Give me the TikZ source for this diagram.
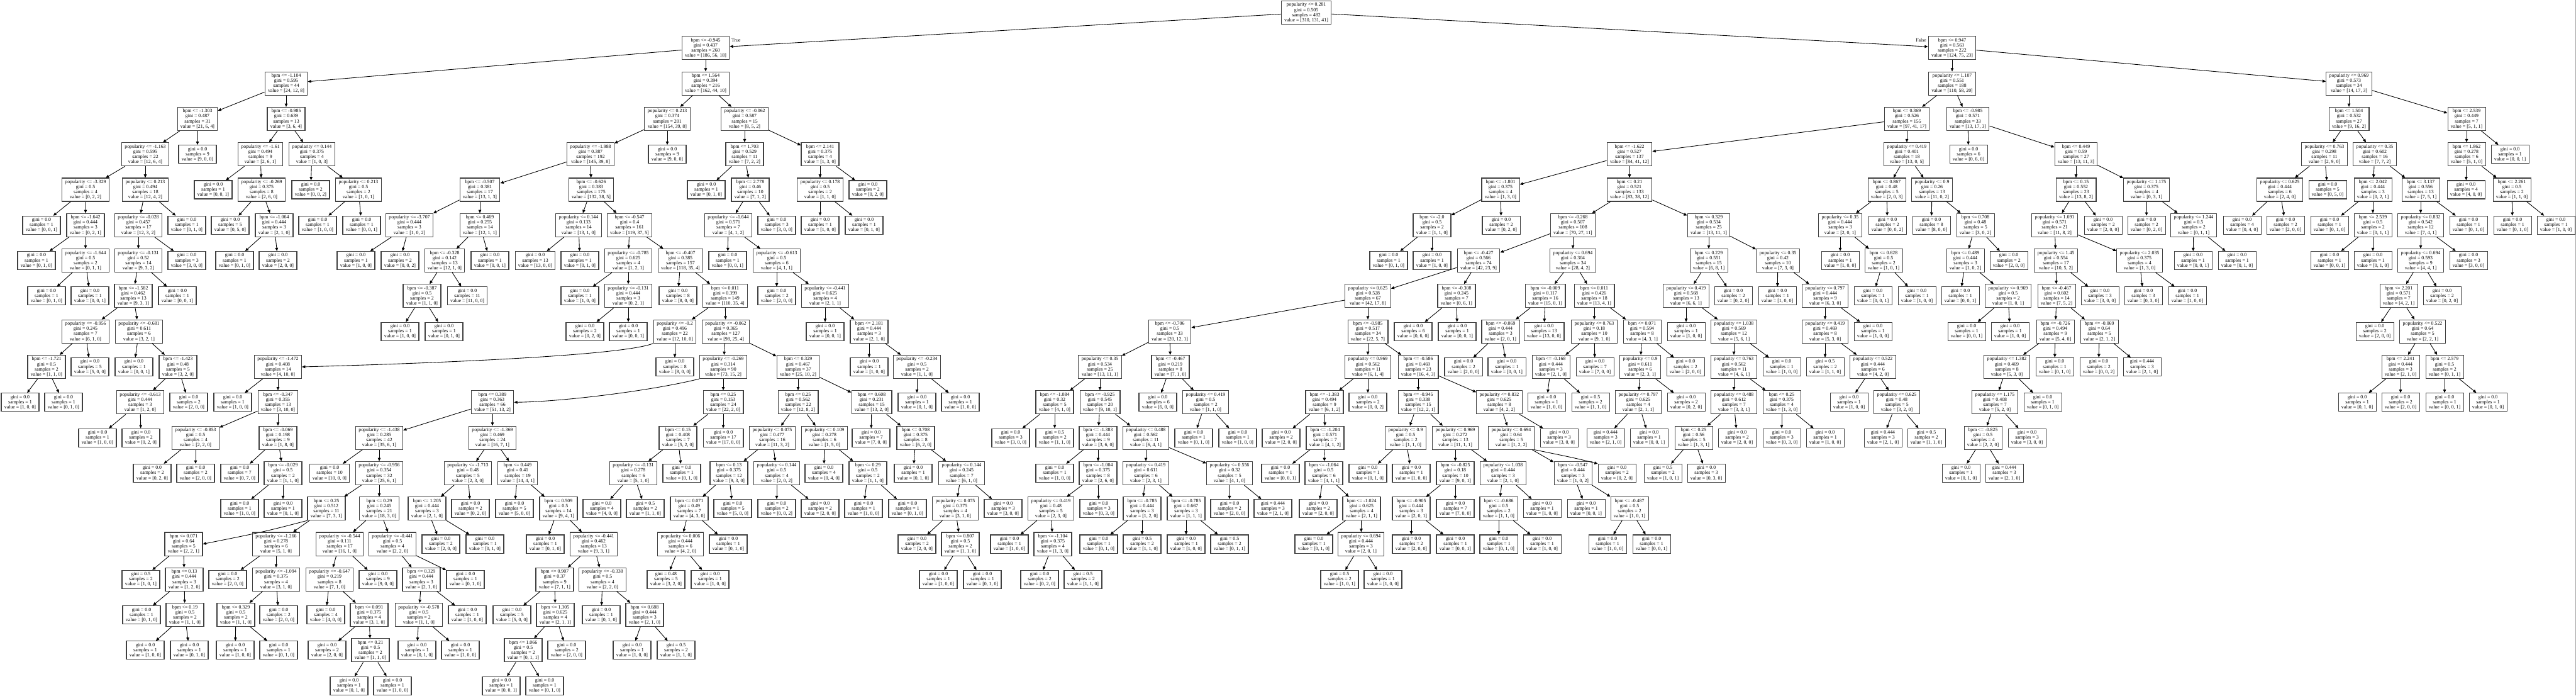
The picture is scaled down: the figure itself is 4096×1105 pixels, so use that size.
\documentclass[tikz,border=0pt]{standalone}
\usepackage{fontspec}
\setmainfont{Liberation Serif}
\usetikzlibrary{arrows.meta}

\tikzset{
  treebox/.style={draw=black!75, line width=0.3pt, rectangle, align=center,
    inner xsep=1.4pt, inner ysep=0.3pt, font=\fontsize{2.23pt}{2.31pt}\selectfont},
  splitnode/.style={treebox, minimum height=0.37cm},
  leafnode/.style={treebox, minimum height=0.29cm},
  treeedge/.style={-{Triangle[length=1.5pt,width=1.3pt]}, line width=0.25pt},
  sidelabel/.style={inner sep=0pt, font=\fontsize{2.23pt}{2.31pt}\selectfont}
}

% node at x (px) and depth level
\newcommand{\splitat}[7]{\node[splitnode] (#1) at (#2,{20+56.3*#3}) {#4\\gini = #5\\samples = #6\\value = [#7]};}
\newcommand{\leafat}[6]{\node[leafnode] (#1) at (#2,{20+56.3*#3}) {gini = #4\\samples = #5\\value = [#6]};}
% same, with the arrow from the parent
\newcommand{\splitbox}[8]{\splitat{#1}{#3}{#4}{#5}{#6}{#7}{#8}\draw[treeedge] (#2) -- (#1);}
\newcommand{\leafbox}[7]{\leafat{#1}{#3}{#4}{#5}{#6}{#7}\draw[treeedge] (#2) -- (#1);}

\begin{document}
\begin{tikzpicture}[x=0.01cm, y=-0.01cm]
\fill[white] (0,0) rectangle (4096,1105);
\useasboundingbox (0,0) rectangle (4096,1105);

\splitat{r}{2077}{0}{popularity <= 0.281}{0.505}{482}{310, 131, 41}

% left branch
\splitbox{n1}{r}{1122}{1}{bpm <= -0.945}{0.437}{260}{186, 56, 18}
\splitbox{n2}{n1}{455}{2}{bpm <= -1.104}{0.595}{44}{24, 12, 8}
\splitbox{n3}{n2}{314}{3}{bpm <= -1.303}{0.487}{31}{21, 6, 4}
\splitbox{n4}{n3}{231}{4}{popularity <= -1.163}{0.595}{22}{12, 6, 4}
\splitbox{n5}{n4}{136}{5}{popularity <= -3.329}{0.5}{4}{0, 2, 2}
\leafbox{n6}{n5}{66}{6}{0.0}{1}{0, 0, 1}
\splitbox{n7}{n5}{136}{6}{bpm <= -1.642}{0.444}{3}{0, 2, 1}
\leafbox{n8}{n7}{58}{7}{0.0}{1}{0, 1, 0}
\splitbox{n9}{n7}{136}{7}{popularity <= -1.644}{0.5}{2}{0, 1, 1}
\leafbox{n10}{n9}{74}{8}{0.0}{1}{0, 1, 0}
\leafbox{n11}{n9}{143}{8}{0.0}{1}{0, 0, 1}
\splitbox{n12}{n4}{231}{5}{popularity <= 0.213}{0.494}{18}{12, 4, 2}
\splitbox{n13}{n12}{220}{6}{popularity <= -0.028}{0.457}{17}{12, 3, 2}
\splitbox{n14}{n13}{220}{7}{popularity <= -0.131}{0.52}{14}{9, 3, 2}
\splitbox{n15}{n14}{212}{8}{bpm <= -1.582}{0.462}{13}{9, 3, 1}
\splitbox{n16}{n15}{136}{9}{popularity <= -0.956}{0.245}{7}{6, 1, 0}
\splitbox{n17}{n16}{74}{10}{bpm <= -1.721}{0.5}{2}{1, 1, 0}
\leafbox{n18}{n17}{32}{11}{0.0}{1}{1, 0, 0}
\leafbox{n19}{n17}{101}{11}{0.0}{1}{0, 1, 0}
\leafbox{n20}{n16}{143}{10}{0.0}{5}{5, 0, 0}
\splitbox{n21}{n15}{221}{9}{popularity <= -0.681}{0.611}{6}{3, 2, 1}
\leafbox{n22}{n21}{213}{10}{0.0}{1}{0, 0, 1}
\splitbox{n23}{n21}{283}{10}{bpm <= -1.423}{0.48}{5}{3, 2, 0}
\splitbox{n24}{n23}{223}{11}{popularity <= -0.613}{0.444}{3}{1, 2, 0}
\leafbox{n25}{n24}{155}{12}{0.0}{1}{1, 0, 0}
\leafbox{n26}{n24}{224}{12}{0.0}{2}{0, 2, 0}
\leafbox{n27}{n23}{300}{11}{0.0}{2}{2, 0, 0}
\leafbox{n28}{n14}{282}{8}{0.0}{1}{0, 0, 1}
\leafbox{n29}{n13}{297}{7}{0.0}{3}{3, 0, 0}
\leafbox{n30}{n12}{297}{6}{0.0}{1}{0, 1, 0}
\leafbox{n31}{n3}{314}{4}{0.0}{9}{9, 0, 0}
\splitbox{n32}{n2}{455}{3}{bpm <= -0.985}{0.639}{13}{3, 6, 4}
\splitbox{n33}{n32}{414}{4}{popularity <= -1.61}{0.494}{9}{2, 6, 1}
\leafbox{n34}{n33}{339}{5}{0.0}{1}{0, 0, 1}
\splitbox{n35}{n33}{416}{5}{popularity <= -0.269}{0.375}{8}{2, 6, 0}
\leafbox{n36}{n35}{366}{6}{0.0}{5}{0, 5, 0}
\splitbox{n37}{n35}{436}{6}{bpm <= -1.064}{0.444}{3}{2, 1, 0}
\leafbox{n38}{n37}{373}{7}{0.0}{1}{0, 1, 0}
\leafbox{n39}{n37}{442}{7}{0.0}{2}{2, 0, 0}
\splitbox{n40}{n32}{496}{4}{popularity <= 0.144}{0.375}{4}{1, 0, 3}
\leafbox{n41}{n40}{494}{5}{0.0}{2}{0, 0, 2}
\splitbox{n42}{n40}{570}{5}{popularity <= 0.213}{0.5}{2}{1, 0, 1}
\leafbox{n43}{n42}{505}{6}{0.0}{1}{1, 0, 0}
\leafbox{n44}{n42}{575}{6}{0.0}{1}{0, 0, 1}
\splitbox{n45}{n1}{1122}{2}{bpm <= 1.564}{0.394}{216}{162, 44, 10}
\splitbox{n46}{n45}{1061}{3}{popularity <= 0.213}{0.374}{201}{154, 39, 8}
\splitbox{n47}{n46}{939}{4}{popularity <= -1.988}{0.387}{192}{145, 39, 8}
\splitbox{n48}{n47}{763}{5}{bpm <= -0.507}{0.381}{17}{13, 1, 3}
\splitbox{n49}{n48}{651}{6}{popularity <= -3.707}{0.444}{3}{1, 0, 2}
\leafbox{n50}{n49}{566}{7}{0.0}{1}{1, 0, 0}
\leafbox{n51}{n49}{636}{7}{0.0}{2}{0, 0, 2}
\splitbox{n52}{n48}{763}{6}{bpm <= 0.469}{0.255}{14}{12, 1, 1}
\splitbox{n53}{n52}{707}{7}{bpm <= -0.328}{0.142}{13}{12, 1, 0}
\splitbox{n54}{n53}{671}{8}{bpm <= -0.387}{0.5}{2}{1, 1, 0}
\leafbox{n55}{n54}{636}{9}{0.0}{1}{1, 0, 0}
\leafbox{n56}{n54}{706}{9}{0.0}{1}{0, 1, 0}
\leafbox{n57}{n53}{743}{8}{0.0}{11}{11, 0, 0}
\leafbox{n58}{n52}{779}{7}{0.0}{1}{0, 0, 1}
\splitbox{n59}{n47}{940}{5}{bpm <= -0.626}{0.383}{175}{132, 38, 5}
\splitbox{n60}{n59}{920}{6}{popularity <= 0.144}{0.133}{14}{13, 1, 0}
\leafbox{n61}{n60}{851}{7}{0.0}{13}{13, 0, 0}
\leafbox{n62}{n60}{922}{7}{0.0}{1}{0, 1, 0}
\splitbox{n63}{n59}{1001}{6}{bpm <= -0.547}{0.4}{161}{119, 37, 5}
\splitbox{n64}{n63}{999}{7}{popularity <= -0.785}{0.625}{4}{1, 2, 1}
\leafbox{n65}{n64}{922}{8}{0.0}{1}{1, 0, 0}
\splitbox{n66}{n64}{999}{8}{popularity <= -0.131}{0.444}{3}{0, 2, 1}
\leafbox{n67}{n66}{930}{9}{0.0}{2}{0, 2, 0}
\leafbox{n68}{n66}{999}{9}{0.0}{1}{0, 0, 1}
\splitbox{n69}{n63}{1082}{7}{bpm <= -0.407}{0.385}{157}{118, 35, 4}
\leafbox{n70}{n69}{1078}{8}{0.0}{8}{8, 0, 0}
\splitbox{n71}{n69}{1153}{8}{bpm <= 0.011}{0.399}{149}{110, 35, 4}
\splitbox{n72}{n71}{1073}{9}{popularity <= -0.2}{0.496}{22}{12, 10, 0}
\splitat{n73}{442}{10}{popularity <= -1.472}{0.408}{14}{4, 10, 0}
\draw[treeedge] (n72.south west) .. controls (990,565) and (700,577) .. (n73.east);
\leafbox{n74}{n73}{370}{11}{0.0}{1}{1, 0, 0}
\splitbox{n75}{n73}{442}{11}{bpm <= -0.347}{0.355}{13}{3, 10, 0}
\splitbox{n76}{n75}{311}{12}{popularity <= -0.853}{0.5}{4}{2, 2, 0}
\leafbox{n77}{n76}{242}{13}{0.0}{2}{0, 2, 0}
\leafbox{n78}{n76}{311}{13}{0.0}{2}{2, 0, 0}
\splitbox{n79}{n75}{442}{12}{bpm <= -0.069}{0.198}{9}{1, 8, 0}
\leafbox{n80}{n79}{381}{13}{0.0}{7}{0, 7, 0}
\splitbox{n81}{n79}{450}{13}{bpm <= -0.029}{0.5}{2}{1, 1, 0}
\leafbox{n82}{n81}{381}{14}{0.0}{1}{1, 0, 0}
\leafbox{n83}{n81}{450}{14}{0.0}{1}{0, 1, 0}
\leafbox{n84}{n72}{1073}{10}{0.0}{8}{8, 0, 0}
\splitbox{n85}{n71}{1154}{9}{popularity <= -0.062}{0.365}{127}{98, 25, 4}
\splitbox{n86}{n85}{1150}{10}{popularity <= -0.269}{0.314}{90}{73, 15, 2}
\splitat{n87}{783}{11}{bpm <= 0.389}{0.363}{66}{51, 13, 2}
\draw[treeedge] (n86.south west) .. controls (1040,620) and (900,638) .. (n87.east);
\splitbox{n88}{n87}{603}{12}{popularity <= -1.438}{0.285}{42}{35, 6, 1}
\leafbox{n89}{n88}{524}{13}{0.0}{10}{10, 0, 0}
\splitbox{n90}{n88}{603}{13}{popularity <= -0.956}{0.354}{32}{25, 6, 1}
\splitbox{n91}{n90}{519}{14}{bpm <= 0.25}{0.512}{11}{7, 3, 1}
\splitat{n92}{292}{15}{bpm <= 0.071}{0.64}{5}{2, 2, 1}
\draw[treeedge] (n91.south west) .. controls (420,845) .. (n92.east);
\leafbox{n93}{n92}{224}{16}{0.5}{2}{1, 0, 1}
\splitbox{n94}{n92}{293}{16}{bpm <= 0.13}{0.444}{3}{1, 2, 0}
\leafbox{n95}{n94}{225}{17}{0.0}{1}{0, 1, 0}
\splitbox{n96}{n94}{294}{17}{bpm <= 0.19}{0.5}{2}{1, 1, 0}
\leafbox{n97}{n96}{231}{18}{0.0}{1}{1, 0, 0}
\leafbox{n98}{n96}{301}{18}{0.0}{1}{0, 1, 0}
\splitbox{n99}{n91}{439}{15}{popularity <= -1.266}{0.278}{6}{5, 1, 0}
\leafbox{n100}{n99}{362}{16}{0.0}{2}{2, 0, 0}
\splitbox{n101}{n99}{439}{16}{popularity <= -1.094}{0.375}{4}{3, 1, 0}
\splitbox{n102}{n101}{375}{17}{bpm <= 0.329}{0.5}{2}{1, 1, 0}
\leafbox{n103}{n102}{374}{18}{0.0}{1}{1, 0, 0}
\leafbox{n104}{n102}{443}{18}{0.0}{1}{0, 1, 0}
\leafbox{n105}{n101}{443}{17}{0.0}{2}{2, 0, 0}
\splitbox{n106}{n90}{603}{14}{bpm <= 0.29}{0.245}{21}{18, 3, 0}
\splitbox{n107}{n106}{540}{15}{popularity <= -0.544}{0.111}{17}{16, 1, 0}
\splitbox{n108}{n107}{524}{16}{popularity <= -0.647}{0.219}{8}{7, 1, 0}
\leafbox{n109}{n108}{518}{17}{0.0}{4}{4, 0, 0}
\splitbox{n110}{n108}{587}{17}{bpm <= 0.091}{0.375}{4}{3, 1, 0}
\leafbox{n111}{n110}{520}{18}{0.0}{2}{2, 0, 0}
\splitbox{n112}{n110}{589}{18}{bpm <= 0.21}{0.5}{2}{1, 1, 0}
\leafbox{n113}{n112}{555}{19}{0.0}{1}{0, 1, 0}
\leafbox{n114}{n112}{624}{19}{0.0}{1}{1, 0, 0}
\leafbox{n115}{n107}{601}{16}{0.0}{9}{9, 0, 0}
\splitbox{n116}{n106}{624}{15}{popularity <= -0.441}{0.5}{4}{2, 2, 0}
\splitbox{n117}{n116}{670}{16}{bpm <= 0.329}{0.444}{3}{2, 1, 0}
\splitbox{n118}{n117}{666}{17}{popularity <= -0.578}{0.5}{2}{1, 1, 0}
\leafbox{n119}{n118}{663}{18}{0.0}{1}{0, 1, 0}
\leafbox{n120}{n118}{732}{18}{0.0}{1}{1, 0, 0}
\leafbox{n121}{n117}{743}{17}{0.0}{1}{1, 0, 0}
\leafbox{n122}{n116}{740}{16}{0.0}{1}{0, 1, 0}
\splitbox{n123}{n87}{783}{12}{popularity <= -1.369}{0.469}{24}{16, 7, 1}
\splitbox{n124}{n123}{744}{13}{popularity <= -1.713}{0.48}{5}{2, 3, 0}
\splitbox{n125}{n124}{679}{14}{bpm <= 1.205}{0.444}{3}{2, 1, 0}
\leafbox{n126}{n125}{701}{15}{0.0}{2}{2, 0, 0}
\leafbox{n127}{n125}{771}{15}{0.0}{1}{0, 1, 0}
\leafbox{n128}{n124}{748}{14}{0.0}{2}{0, 2, 0}
\splitbox{n129}{n123}{823}{13}{bpm <= 0.449}{0.41}{19}{14, 4, 1}
\leafbox{n130}{n129}{818}{14}{0.0}{5}{5, 0, 0}
\splitbox{n131}{n129}{888}{14}{bpm <= 0.509}{0.5}{14}{9, 4, 1}
\leafbox{n132}{n131}{867}{15}{0.0}{1}{0, 1, 0}
\splitbox{n133}{n131}{944}{15}{popularity <= -0.441}{0.462}{13}{9, 3, 1}
\splitbox{n134}{n133}{882}{16}{bpm <= 0.907}{0.37}{9}{7, 1, 1}
\leafbox{n135}{n134}{814}{17}{0.0}{5}{5, 0, 0}
\splitbox{n136}{n134}{883}{17}{bpm <= 1.305}{0.625}{4}{2, 1, 1}
\splitbox{n137}{n136}{832}{18}{bpm <= 1.066}{0.5}{2}{0, 1, 1}
\leafbox{n138}{n137}{797}{19}{0.0}{1}{0, 0, 1}
\leafbox{n139}{n137}{866}{19}{0.0}{1}{0, 1, 0}
\leafbox{n140}{n136}{901}{18}{0.0}{2}{2, 0, 0}
\splitbox{n141}{n133}{958}{16}{popularity <= -0.338}{0.5}{4}{2, 2, 0}
\leafbox{n142}{n141}{956}{17}{0.0}{1}{0, 1, 0}
\splitbox{n143}{n141}{1025}{17}{bpm <= 0.688}{0.444}{3}{2, 1, 0}
\leafbox{n144}{n143}{1005}{18}{0.0}{1}{1, 0, 0}
\leafbox{n145}{n143}{1075}{18}{0.5}{2}{1, 1, 0}
\splitbox{n146}{n86}{1150}{11}{bpm <= 0.25}{0.153}{24}{22, 2, 0}
\splitbox{n147}{n146}{1078}{12}{bpm <= 0.15}{0.408}{7}{5, 2, 0}
\splitbox{n148}{n147}{1007}{13}{popularity <= -0.131}{0.278}{6}{5, 1, 0}
\leafbox{n149}{n148}{957}{14}{0.0}{4}{4, 0, 0}
\leafbox{n150}{n148}{1026}{14}{0.5}{2}{1, 1, 0}
\leafbox{n151}{n147}{1084}{13}{0.0}{1}{0, 1, 0}
\leafbox{n152}{n146}{1150}{12}{0.0}{17}{17, 0, 0}
\splitbox{n153}{n85}{1269}{10}{bpm <= 0.329}{0.467}{37}{25, 10, 2}
\splitbox{n154}{n153}{1269}{11}{bpm <= 0.25}{0.562}{22}{12, 8, 2}
\splitbox{n155}{n154}{1228}{12}{popularity <= 0.075}{0.477}{16}{11, 3, 2}
\splitbox{n156}{n155}{1159}{13}{bpm <= 0.13}{0.375}{12}{9, 3, 0}
\splitbox{n157}{n156}{1096}{14}{bpm <= 0.071}{0.49}{7}{4, 3, 0}
\splitbox{n158}{n157}{1082}{15}{popularity <= 0.006}{0.444}{6}{4, 2, 0}
\leafbox{n159}{n158}{1059}{16}{0.48}{5}{3, 2, 0}
\leafbox{n160}{n158}{1129}{16}{0.0}{1}{1, 0, 0}
\leafbox{n161}{n157}{1158}{15}{0.0}{1}{0, 1, 0}
\leafbox{n162}{n156}{1165}{14}{0.0}{5}{5, 0, 0}
\splitbox{n163}{n155}{1235}{13}{popularity <= 0.144}{0.5}{4}{2, 0, 2}
\leafbox{n164}{n163}{1235}{14}{0.0}{2}{0, 0, 2}
\leafbox{n165}{n163}{1304}{14}{0.0}{2}{2, 0, 0}
\splitbox{n166}{n154}{1311}{12}{popularity <= 0.109}{0.278}{6}{1, 5, 0}
\leafbox{n167}{n166}{1310}{13}{0.0}{4}{0, 4, 0}
\splitbox{n168}{n166}{1380}{13}{bpm <= 0.29}{0.5}{2}{1, 1, 0}
\leafbox{n169}{n168}{1373}{14}{0.0}{1}{1, 0, 0}
\leafbox{n170}{n168}{1443}{14}{0.0}{1}{0, 1, 0}
\splitbox{n171}{n153}{1386}{11}{bpm <= 0.608}{0.231}{15}{13, 2, 0}
\leafbox{n172}{n171}{1385}{12}{0.0}{7}{7, 0, 0}
\splitbox{n173}{n171}{1456}{12}{bpm <= 0.708}{0.375}{8}{6, 2, 0}
\leafbox{n174}{n173}{1452}{13}{0.0}{1}{0, 1, 0}
\splitbox{n175}{n173}{1529}{13}{popularity <= 0.144}{0.245}{7}{6, 1, 0}
\splitbox{n176}{n175}{1519}{14}{popularity <= 0.075}{0.375}{4}{3, 1, 0}
\leafbox{n177}{n176}{1458}{15}{0.0}{2}{2, 0, 0}
\splitbox{n178}{n176}{1527}{15}{bpm <= 0.807}{0.5}{2}{1, 1, 0}
\leafbox{n179}{n178}{1492}{16}{0.0}{1}{1, 0, 0}
\leafbox{n180}{n178}{1562}{16}{0.0}{1}{0, 1, 0}
\leafbox{n181}{n175}{1595}{14}{0.0}{3}{3, 0, 0}
\leafbox{n182}{n46}{1061}{4}{0.0}{9}{9, 0, 0}
\splitbox{n183}{n45}{1184}{3}{popularity <= -0.062}{0.587}{15}{8, 5, 2}
\splitbox{n184}{n183}{1184}{4}{bpm <= 1.703}{0.529}{11}{7, 2, 2}
\leafbox{n185}{n184}{1123}{5}{0.0}{1}{0, 1, 0}
\splitbox{n186}{n184}{1193}{5}{bpm <= 2.778}{0.46}{10}{7, 1, 2}
\splitbox{n187}{n186}{1158}{6}{popularity <= -1.644}{0.571}{7}{4, 1, 2}
\leafbox{n188}{n187}{1157}{7}{0.0}{1}{0, 0, 1}
\splitbox{n189}{n187}{1235}{7}{popularity <= -0.613}{0.5}{6}{4, 1, 1}
\leafbox{n190}{n189}{1235}{8}{0.0}{2}{2, 0, 0}
\splitbox{n191}{n189}{1312}{8}{popularity <= -0.441}{0.625}{4}{2, 1, 1}
\leafbox{n192}{n191}{1312}{9}{0.0}{1}{0, 0, 1}
\splitbox{n193}{n191}{1382}{9}{bpm <= 2.181}{0.444}{3}{2, 1, 0}
\leafbox{n194}{n193}{1382}{10}{0.0}{1}{1, 0, 0}
\splitbox{n195}{n193}{1458}{10}{popularity <= -0.234}{0.5}{2}{1, 1, 0}
\leafbox{n196}{n195}{1458}{11}{0.0}{1}{0, 1, 0}
\leafbox{n197}{n195}{1527}{11}{0.0}{1}{1, 0, 0}
\leafbox{n198}{n186}{1235}{6}{0.0}{3}{3, 0, 0}
\splitbox{n199}{n183}{1304}{4}{bpm <= 2.141}{0.375}{4}{1, 3, 0}
\splitbox{n200}{n199}{1304}{5}{popularity <= 0.178}{0.5}{2}{1, 1, 0}
\leafbox{n201}{n200}{1304}{6}{0.0}{1}{1, 0, 0}
\leafbox{n202}{n200}{1374}{6}{0.0}{1}{0, 1, 0}
\leafbox{n203}{n199}{1380}{5}{0.0}{2}{0, 2, 0}

% right branch
\splitbox{n204}{r}{3104}{1}{bpm <= 0.947}{0.563}{222}{124, 75, 23}
\splitbox{n205}{n204}{3104}{2}{popularity <= 1.107}{0.551}{188}{110, 58, 20}
\splitbox{n206}{n205}{3032}{3}{bpm <= 0.369}{0.526}{155}{97, 41, 17}
\splitbox{n207}{n206}{2591}{4}{bpm <= -1.622}{0.527}{137}{84, 41, 12}
\splitbox{n208}{n207}{2386}{5}{bpm <= -1.801}{0.375}{4}{1, 3, 0}
\splitbox{n209}{n208}{2277}{6}{bpm <= -2.0}{0.5}{2}{1, 1, 0}
\leafbox{n210}{n209}{2208}{7}{0.0}{1}{0, 1, 0}
\leafbox{n211}{n209}{2277}{7}{0.0}{1}{1, 0, 0}
\leafbox{n212}{n208}{2387}{6}{0.0}{2}{0, 2, 0}
\splitbox{n213}{n207}{2591}{5}{bpm <= 0.21}{0.521}{133}{83, 38, 12}
\splitbox{n214}{n213}{2501}{6}{bpm <= -0.268}{0.507}{108}{70, 27, 11}
\splitbox{n215}{n214}{2351}{7}{bpm <= -0.427}{0.566}{74}{42, 23, 9}
\splitbox{n216}{n215}{2175}{8}{popularity <= 0.625}{0.528}{67}{42, 17, 8}
\splitbox{n217}{n216}{1860}{9}{bpm <= -0.706}{0.5}{33}{20, 12, 1}
\splitbox{n218}{n217}{1749}{10}{popularity <= 0.35}{0.534}{25}{13, 11, 1}
\splitbox{n219}{n218}{1677}{11}{bpm <= -1.084}{0.32}{5}{4, 1, 0}
\leafbox{n220}{n219}{1607}{12}{0.0}{3}{3, 0, 0}
\leafbox{n221}{n219}{1677}{12}{0.5}{2}{1, 1, 0}
\splitbox{n222}{n218}{1749}{11}{bpm <= -0.925}{0.545}{20}{9, 10, 1}
\splitbox{n223}{n222}{1746}{12}{bpm <= -1.383}{0.444}{9}{3, 6, 0}
\leafbox{n224}{n223}{1677}{13}{0.0}{1}{1, 0, 0}
\splitbox{n225}{n223}{1746}{13}{bpm <= -1.004}{0.375}{8}{2, 6, 0}
\splitbox{n226}{n225}{1671}{14}{popularity <= 0.419}{0.48}{5}{2, 3, 0}
\leafbox{n227}{n226}{1605}{15}{0.0}{1}{1, 0, 0}
\splitbox{n228}{n226}{1674}{15}{bpm <= -1.104}{0.375}{4}{1, 3, 0}
\leafbox{n229}{n228}{1653}{16}{0.0}{2}{0, 2, 0}
\leafbox{n230}{n228}{1722}{16}{0.5}{2}{1, 1, 0}
\leafbox{n231}{n225}{1747}{14}{0.0}{3}{0, 3, 0}
\splitbox{n232}{n222}{1822}{12}{popularity <= 0.488}{0.562}{11}{6, 4, 1}
\splitbox{n233}{n232}{1822}{13}{popularity <= 0.419}{0.611}{6}{2, 3, 1}
\splitbox{n234}{n233}{1816}{14}{bpm <= -0.785}{0.444}{3}{1, 2, 0}
\leafbox{n235}{n234}{1747}{15}{0.0}{1}{0, 1, 0}
\leafbox{n236}{n234}{1816}{15}{0.5}{2}{1, 1, 0}
\splitbox{n237}{n233}{1886}{14}{bpm <= -0.785}{0.667}{3}{1, 1, 1}
\leafbox{n238}{n237}{1886}{15}{0.0}{1}{1, 0, 0}
\leafbox{n239}{n237}{1955}{15}{0.5}{2}{0, 1, 1}
\splitbox{n240}{n232}{1955}{13}{popularity <= 0.556}{0.32}{5}{4, 1, 0}
\leafbox{n241}{n240}{1955}{14}{0.0}{2}{2, 0, 0}
\leafbox{n242}{n240}{2024}{14}{0.444}{3}{2, 1, 0}
\splitbox{n243}{n217}{1861}{10}{bpm <= -0.467}{0.219}{8}{7, 1, 0}
\leafbox{n244}{n243}{1841}{11}{0.0}{6}{6, 0, 0}
\splitbox{n245}{n243}{1917}{11}{popularity <= 0.419}{0.5}{2}{1, 1, 0}
\leafbox{n246}{n245}{1898}{12}{0.0}{1}{0, 1, 0}
\leafbox{n247}{n245}{1968}{12}{0.0}{1}{1, 0, 0}
\splitbox{n248}{n216}{2175}{9}{bpm <= -0.985}{0.517}{34}{22, 5, 7}
\splitbox{n249}{n248}{2175}{10}{popularity <= 0.969}{0.562}{11}{6, 1, 4}
\splitbox{n250}{n249}{2106}{11}{bpm <= -1.383}{0.494}{9}{6, 1, 2}
\leafbox{n251}{n250}{2037}{12}{0.0}{2}{2, 0, 0}
\splitbox{n252}{n250}{2107}{12}{bpm <= -1.204}{0.571}{7}{4, 1, 2}
\leafbox{n253}{n252}{2036}{13}{0.0}{1}{0, 0, 1}
\splitbox{n254}{n252}{2105}{13}{bpm <= -1.064}{0.5}{6}{4, 1, 1}
\leafbox{n255}{n254}{2096}{14}{0.0}{2}{2, 0, 0}
\splitbox{n256}{n254}{2165}{14}{bpm <= -1.024}{0.625}{4}{2, 1, 1}
\leafbox{n257}{n256}{2089}{15}{0.0}{1}{0, 1, 0}
\splitbox{n258}{n256}{2164}{15}{popularity <= 0.694}{0.444}{3}{2, 0, 1}
\leafbox{n259}{n258}{2130}{16}{0.5}{2}{1, 0, 1}
\leafbox{n260}{n258}{2199}{16}{0.0}{1}{1, 0, 0}
\leafbox{n261}{n249}{2175}{11}{0.0}{2}{0, 0, 2}
\splitbox{n262}{n248}{2255}{10}{bpm <= -0.586}{0.469}{23}{16, 4, 3}
\splitbox{n263}{n262}{2255}{11}{bpm <= -0.945}{0.338}{15}{12, 2, 1}
\splitbox{n264}{n263}{2235}{12}{popularity <= 0.9}{0.5}{2}{1, 1, 0}
\leafbox{n265}{n264}{2175}{13}{0.0}{1}{0, 1, 0}
\leafbox{n266}{n264}{2244}{13}{0.0}{1}{1, 0, 0}
\splitbox{n267}{n263}{2314}{12}{popularity <= 0.969}{0.272}{13}{11, 1, 1}
\splitbox{n268}{n267}{2314}{13}{bpm <= -0.825}{0.18}{10}{9, 0, 1}
\splitbox{n269}{n268}{2244}{14}{bpm <= -0.905}{0.444}{3}{2, 0, 1}
\leafbox{n270}{n269}{2244}{15}{0.0}{2}{2, 0, 0}
\leafbox{n271}{n269}{2314}{15}{0.0}{1}{0, 0, 1}
\leafbox{n272}{n268}{2314}{14}{0.0}{7}{7, 0, 0}
\splitbox{n273}{n267}{2390}{13}{popularity <= 1.038}{0.444}{3}{2, 1, 0}
\splitbox{n274}{n273}{2383}{14}{bpm <= -0.686}{0.5}{2}{1, 1, 0}
\leafbox{n275}{n274}{2383}{15}{0.0}{1}{0, 1, 0}
\leafbox{n276}{n274}{2452}{15}{0.0}{1}{1, 0, 0}
\leafbox{n277}{n273}{2452}{14}{0.0}{1}{1, 0, 0}
\splitbox{n278}{n262}{2384}{11}{popularity <= 0.832}{0.625}{8}{4, 2, 2}
\splitbox{n279}{n278}{2403}{12}{popularity <= 0.694}{0.64}{5}{1, 2, 2}
\splitbox{n280}{n279}{2501}{13}{bpm <= -0.547}{0.444}{3}{1, 0, 2}
\leafbox{n281}{n280}{2522}{14}{0.0}{1}{0, 0, 1}
\splitbox{n282}{n280}{2591}{14}{bpm <= -0.487}{0.5}{2}{1, 0, 1}
\leafbox{n283}{n282}{2556}{15}{0.0}{1}{1, 0, 0}
\leafbox{n284}{n282}{2626}{15}{0.0}{1}{0, 0, 1}
\leafat{n285}{2571}{13}{0.0}{2}{0, 2, 0}
\draw[treeedge] (n279.south east) .. controls (2505,728) .. (n285.north west);
\leafbox{n286}{n278}{2479}{12}{0.0}{3}{3, 0, 0}
\splitbox{n287}{n215}{2316}{8}{bpm <= -0.308}{0.245}{7}{0, 6, 1}
\leafbox{n288}{n287}{2247}{9}{0.0}{6}{0, 6, 0}
\leafbox{n289}{n287}{2317}{9}{0.0}{1}{0, 0, 1}
\splitbox{n290}{n214}{2501}{7}{popularity <= 0.694}{0.304}{34}{28, 4, 2}
\splitbox{n291}{n290}{2457}{8}{bpm <= -0.009}{0.117}{16}{15, 0, 1}
\splitbox{n292}{n291}{2386}{9}{bpm <= -0.069}{0.444}{3}{2, 0, 1}
\leafbox{n293}{n292}{2327}{10}{0.0}{2}{2, 0, 0}
\leafbox{n294}{n292}{2396}{10}{0.0}{1}{0, 0, 1}
\leafbox{n295}{n291}{2455}{9}{0.0}{13}{13, 0, 0}
\splitbox{n296}{n290}{2535}{8}{bpm <= 0.011}{0.426}{18}{13, 4, 1}
\splitbox{n297}{n296}{2535}{9}{popularity <= 0.763}{0.18}{10}{9, 1, 0}
\splitbox{n298}{n297}{2466}{10}{bpm <= -0.168}{0.444}{3}{2, 1, 0}
\leafbox{n299}{n298}{2459}{11}{0.0}{1}{1, 0, 0}
\leafbox{n300}{n298}{2529}{11}{0.5}{2}{1, 1, 0}
\leafbox{n301}{n297}{2536}{10}{0.0}{7}{7, 0, 0}
\splitbox{n302}{n296}{2611}{9}{bpm <= 0.071}{0.594}{8}{4, 3, 1}
\splitbox{n303}{n302}{2608}{10}{popularity <= 0.9}{0.611}{6}{2, 3, 1}
\splitbox{n304}{n303}{2605}{11}{popularity <= 0.797}{0.625}{4}{2, 1, 1}
\leafbox{n305}{n304}{2553}{12}{0.444}{3}{2, 1, 0}
\leafbox{n306}{n304}{2622}{12}{0.0}{1}{0, 0, 1}
\leafbox{n307}{n303}{2681}{11}{0.0}{2}{0, 2, 0}
\leafbox{n308}{n302}{2680}{10}{0.0}{2}{2, 0, 0}
\splitbox{n309}{n213}{2717}{6}{bpm <= 0.329}{0.534}{25}{13, 11, 1}
\splitbox{n310}{n309}{2717}{7}{bpm <= 0.229}{0.551}{15}{6, 8, 1}
\splitbox{n311}{n310}{2681}{8}{popularity <= 0.419}{0.568}{13}{6, 6, 1}
\leafbox{n312}{n311}{2681}{9}{0.0}{1}{1, 0, 0}
\splitbox{n313}{n311}{2757}{9}{popularity <= 1.038}{0.569}{12}{5, 6, 1}
\splitbox{n314}{n313}{2757}{10}{popularity <= 0.763}{0.562}{11}{4, 6, 1}
\splitbox{n315}{n314}{2757}{11}{popularity <= 0.488}{0.612}{7}{3, 3, 1}
\splitbox{n316}{n315}{2693}{12}{bpm <= 0.25}{0.56}{5}{1, 3, 1}
\leafbox{n317}{n316}{2644}{13}{0.5}{2}{1, 0, 1}
\leafbox{n318}{n316}{2713}{13}{0.0}{3}{0, 3, 0}
\leafbox{n319}{n315}{2762}{12}{0.0}{2}{2, 0, 0}
\splitbox{n320}{n314}{2833}{11}{bpm <= 0.25}{0.375}{4}{1, 3, 0}
\leafbox{n321}{n320}{2833}{12}{0.0}{3}{0, 3, 0}
\leafbox{n322}{n320}{2902}{12}{0.0}{1}{1, 0, 0}
\leafbox{n323}{n313}{2833}{10}{0.0}{1}{1, 0, 0}
\leafbox{n324}{n310}{2756}{8}{0.0}{2}{0, 2, 0}
\splitbox{n325}{n309}{2827}{7}{popularity <= 0.35}{0.42}{10}{7, 3, 0}
\leafbox{n326}{n325}{2826}{8}{0.0}{1}{1, 0, 0}
\splitbox{n327}{n325}{2902}{8}{popularity <= 0.797}{0.444}{9}{6, 3, 0}
\splitbox{n328}{n327}{2902}{9}{popularity <= 0.419}{0.469}{8}{5, 3, 0}
\leafbox{n329}{n328}{2902}{10}{0.5}{2}{1, 1, 0}
\splitbox{n330}{n328}{2978}{10}{popularity <= 0.522}{0.444}{6}{4, 2, 0}
\leafbox{n331}{n330}{2940}{11}{0.0}{1}{1, 0, 0}
\splitbox{n332}{n330}{3016}{11}{popularity <= 0.625}{0.48}{5}{3, 2, 0}
\leafbox{n333}{n332}{2994}{12}{0.444}{3}{2, 1, 0}
\leafbox{n334}{n332}{3063}{12}{0.5}{2}{1, 1, 0}
\leafbox{n335}{n327}{2978}{9}{0.0}{1}{1, 0, 0}
\splitbox{n336}{n206}{3032}{4}{popularity <= 0.419}{0.401}{18}{13, 0, 5}
\splitbox{n337}{n336}{3000}{5}{bpm <= 0.867}{0.48}{5}{2, 0, 3}
\splitbox{n338}{n337}{2926}{6}{popularity <= 0.35}{0.444}{3}{2, 0, 1}
\leafbox{n339}{n338}{2926}{7}{0.0}{1}{1, 0, 0}
\splitbox{n340}{n338}{2995}{7}{bpm <= 0.628}{0.5}{2}{1, 0, 1}
\leafbox{n341}{n340}{2978}{8}{0.0}{1}{0, 0, 1}
\leafbox{n342}{n340}{3048}{8}{0.0}{1}{1, 0, 0}
\leafbox{n343}{n337}{3001}{6}{0.0}{2}{0, 0, 2}
\splitbox{n344}{n336}{3072}{5}{popularity <= 0.9}{0.26}{13}{11, 0, 2}
\leafbox{n345}{n344}{3071}{6}{0.0}{8}{8, 0, 0}
\splitbox{n346}{n344}{3141}{6}{bpm <= 0.708}{0.48}{5}{3, 0, 2}
\splitbox{n347}{n346}{3125}{7}{bpm <= 0.489}{0.444}{3}{1, 0, 2}
\leafbox{n348}{n347}{3117}{8}{0.0}{1}{0, 0, 1}
\splitbox{n349}{n347}{3193}{8}{popularity <= 0.969}{0.5}{2}{1, 0, 1}
\leafbox{n350}{n349}{3127}{9}{0.0}{1}{0, 0, 1}
\leafbox{n351}{n349}{3196}{9}{0.0}{1}{1, 0, 0}
\leafbox{n352}{n346}{3194}{7}{0.0}{2}{2, 0, 0}
\splitbox{n353}{n205}{3129}{3}{bpm <= -0.985}{0.571}{33}{13, 17, 3}
\leafbox{n354}{n353}{3130}{4}{0.0}{6}{0, 6, 0}
\splitbox{n355}{n353}{3301}{4}{bpm <= 0.449}{0.59}{27}{13, 11, 3}
\splitbox{n356}{n355}{3301}{5}{bpm <= 0.15}{0.552}{23}{13, 8, 2}
\splitbox{n357}{n356}{3267}{6}{popularity <= 1.691}{0.571}{21}{11, 8, 2}
\splitbox{n358}{n357}{3269}{7}{popularity <= 1.45}{0.554}{17}{10, 5, 2}
\splitbox{n359}{n358}{3270}{8}{bpm <= -0.467}{0.602}{14}{7, 5, 2}
\splitbox{n360}{n359}{3268}{9}{bpm <= -0.726}{0.494}{9}{5, 4, 0}
\splitbox{n361}{n360}{3191}{10}{popularity <= 1.382}{0.469}{8}{5, 3, 0}
\splitbox{n362}{n361}{3172}{11}{popularity <= 1.175}{0.408}{7}{5, 2, 0}
\splitbox{n363}{n362}{3153}{12}{bpm <= -0.825}{0.5}{4}{2, 2, 0}
\leafbox{n364}{n363}{3118}{13}{0.0}{1}{0, 1, 0}
\leafbox{n365}{n363}{3187}{13}{0.444}{3}{2, 1, 0}
\leafbox{n366}{n362}{3223}{12}{0.0}{3}{3, 0, 0}
\leafbox{n367}{n361}{3248}{11}{0.0}{1}{0, 1, 0}
\leafbox{n368}{n360}{3267}{10}{0.0}{1}{0, 1, 0}
\splitbox{n369}{n359}{3338}{9}{bpm <= -0.069}{0.64}{5}{2, 1, 2}
\leafbox{n370}{n369}{3337}{10}{0.0}{2}{0, 0, 2}
\leafbox{n371}{n369}{3406}{10}{0.444}{3}{2, 1, 0}
\leafbox{n372}{n358}{3339}{8}{0.0}{3}{3, 0, 0}
\splitbox{n373}{n357}{3402}{7}{popularity <= 2.035}{0.375}{4}{1, 3, 0}
\leafbox{n374}{n373}{3408}{8}{0.0}{3}{0, 3, 0}
\leafbox{n375}{n373}{3478}{8}{0.0}{1}{1, 0, 0}
\leafbox{n376}{n356}{3344}{6}{0.0}{2}{2, 0, 0}
\splitbox{n377}{n355}{3413}{5}{popularity <= 1.175}{0.375}{4}{0, 3, 1}
\leafbox{n378}{n377}{3413}{6}{0.0}{2}{0, 2, 0}
\splitbox{n379}{n377}{3488}{6}{popularity <= 1.244}{0.5}{2}{0, 1, 1}
\leafbox{n380}{n379}{3487}{7}{0.0}{1}{0, 0, 1}
\leafbox{n381}{n379}{3557}{7}{0.0}{1}{0, 1, 0}
\splitbox{n382}{n204}{3735}{2}{popularity <= 0.969}{0.573}{34}{14, 17, 3}
\splitbox{n383}{n382}{3735}{3}{bpm <= 1.504}{0.532}{27}{9, 16, 2}
\splitbox{n384}{n383}{3696}{4}{popularity <= 0.763}{0.298}{11}{2, 9, 0}
\splitbox{n385}{n384}{3625}{5}{popularity <= 0.625}{0.444}{6}{2, 4, 0}
\leafbox{n386}{n385}{3565}{6}{0.0}{4}{0, 4, 0}
\leafbox{n387}{n385}{3634}{6}{0.0}{2}{2, 0, 0}
\leafbox{n388}{n384}{3701}{5}{0.0}{5}{0, 5, 0}
\splitbox{n389}{n383}{3776}{4}{popularity <= 0.35}{0.602}{16}{7, 7, 2}
\splitbox{n390}{n389}{3773}{5}{bpm <= 2.042}{0.444}{3}{0, 2, 1}
\leafbox{n391}{n390}{3704}{6}{0.0}{1}{0, 1, 0}
\splitbox{n392}{n390}{3773}{6}{bpm <= 2.539}{0.5}{2}{0, 1, 1}
\leafbox{n393}{n392}{3704}{7}{0.0}{1}{0, 0, 1}
\leafbox{n394}{n392}{3773}{7}{0.0}{1}{0, 1, 0}
\splitbox{n395}{n389}{3849}{5}{bpm <= 3.137}{0.556}{13}{7, 5, 1}
\splitbox{n396}{n395}{3849}{6}{popularity <= 0.832}{0.542}{12}{7, 4, 1}
\splitbox{n397}{n396}{3849}{7}{popularity <= 0.694}{0.593}{9}{4, 4, 1}
\splitbox{n398}{n397}{3814}{8}{bpm <= 2.201}{0.571}{7}{4, 2, 1}
\leafbox{n399}{n398}{3776}{9}{0.0}{2}{2, 0, 0}
\splitbox{n400}{n398}{3852}{9}{popularity <= 0.522}{0.64}{5}{2, 2, 1}
\splitbox{n401}{n400}{3817}{10}{bpm <= 2.241}{0.444}{3}{2, 1, 0}
\leafbox{n402}{n401}{3748}{11}{0.0}{1}{0, 1, 0}
\leafbox{n403}{n401}{3817}{11}{0.0}{2}{2, 0, 0}
\splitbox{n404}{n400}{3887}{10}{bpm <= 2.579}{0.5}{2}{0, 1, 1}
\leafbox{n405}{n404}{3887}{11}{0.0}{1}{0, 0, 1}
\leafbox{n406}{n404}{3956}{11}{0.0}{1}{0, 1, 0}
\leafbox{n407}{n397}{3883}{8}{0.0}{2}{0, 2, 0}
\leafbox{n408}{n396}{3925}{7}{0.0}{3}{3, 0, 0}
\leafbox{n409}{n395}{3925}{6}{0.0}{1}{0, 1, 0}
\splitbox{n410}{n382}{3922}{3}{bpm <= 2.539}{0.449}{7}{5, 1, 1}
\splitbox{n411}{n410}{3922}{4}{bpm <= 1.862}{0.278}{6}{5, 1, 0}
\leafbox{n412}{n411}{3921}{5}{0.0}{4}{4, 0, 0}
\splitbox{n413}{n411}{3994}{5}{bpm <= 2.261}{0.5}{2}{1, 1, 0}
\leafbox{n414}{n413}{3995}{6}{0.0}{1}{0, 1, 0}
\leafbox{n415}{n413}{4064}{6}{0.0}{1}{1, 0, 0}
\leafbox{n416}{n410}{3991}{4}{0.0}{1}{0, 0, 1}

% edge labels at the root split
\node[sidelabel, anchor=west] (truetag) at ([xshift=0.6pt,yshift=-1.8pt]n1.north east) {True};
\node[sidelabel, anchor=east] (falsetag) at ([xshift=-0.6pt,yshift=-1.8pt]n204.north west) {False};

\draw[black!35, line width=0.3pt] (4095.5,0) -- (4095.5,1105);
\end{tikzpicture}
\end{document}
